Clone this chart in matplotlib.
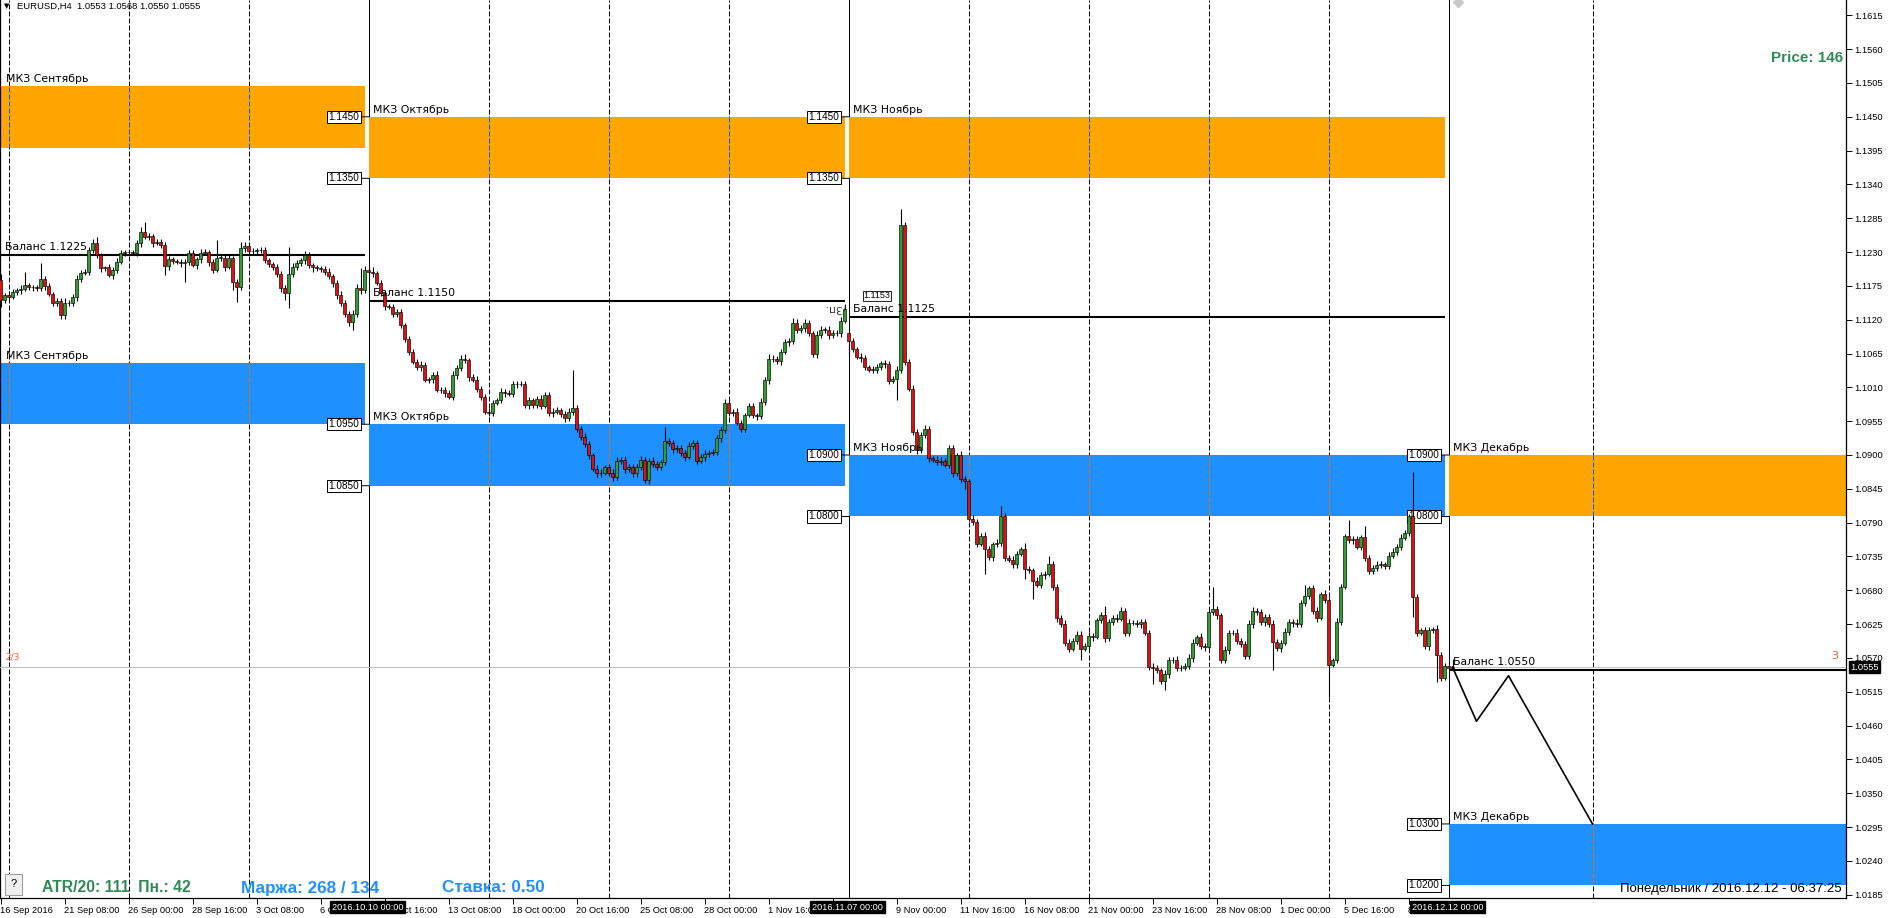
import matplotlib
matplotlib.use('Agg')
import matplotlib.pyplot as plt
import matplotlib.transforms as mtransforms
from matplotlib.patches import Rectangle

# ---------------- data ----------------
header_text = "EURUSD,H4  1.0553 1.0568 1.0550 1.0555"

# H4 closes in pips (price * 10000), bar 0 = 16 Sep 2016 16:00 ... bar 363 = 12 Dec 2016 04:00
closes_pips = [
    11152, 11160, 11157, 11165, 11168, 11170, 11176, 11173, 11173, 11171, 11186, 11175, 11162, 11148, 11150, 11128, 11148, 11147, 11157, 11187,
    11196, 11198, 11233, 11244, 11225, 11204, 11205, 11193, 11201, 11214, 11229, 11230, 11230, 11229, 11244, 11263, 11255, 11256, 11245, 11247,
    11241, 11207, 11218, 11216, 11214, 11212, 11214, 11228, 11209, 11218, 11229, 11230, 11214, 11201, 11221, 11221, 11206, 11220, 11182, 11173,
    11236, 11240, 11232, 11232, 11234, 11233, 11217, 11211, 11205, 11195, 11171, 11164, 11195, 11206, 11212, 11217, 11225, 11209, 11206, 11204,
    11203, 11198, 11191, 11179, 11160, 11147, 11130, 11117, 11130, 11171, 11168, 11201, 11198, 11196, 11180, 11163, 11142, 11141, 11130, 11132,
    11111, 11088, 11068, 11052, 11043, 11047, 11022, 11023, 11030, 11006, 11006, 11001, 10995, 11030, 11041, 11056, 11054, 11027, 11022, 11008,
    10995, 10970, 10969, 10985, 10989, 11003, 11001, 11000, 11015, 11016, 11016, 10981, 10989, 10981, 10991, 10980, 10998, 10968, 10970, 10973,
    10967, 10960, 10970, 10977, 10943, 10929, 10918, 10900, 10878, 10870, 10871, 10880, 10871, 10864, 10891, 10892, 10877, 10881, 10870, 10880,
    10892, 10859, 10891, 10885, 10881, 10888, 10923, 10920, 10909, 10911, 10904, 10897, 10915, 10920, 10891, 10896, 10902, 10904, 10905, 10927,
    10940, 10985, 10969, 10970, 10952, 10943, 10965, 10979, 10965, 10963, 10987, 11022, 11056, 11056, 11053, 11068, 11083, 11086, 11115, 11103,
    11106, 11115, 11098, 11064, 11095, 11104, 11104, 11095, 11099, 11098, 11118, 11138, 11085, 11072, 11060, 11057, 11043, 11039, 11039, 11043,
    11049, 11048, 11021, 11024, 11039, 11274, 11052, 11008, 10938, 10908, 10933, 10942, 10895, 10892, 10889, 10891, 10884, 10911, 10870, 10900,
    10861, 10857, 10796, 10791, 10756, 10769, 10747, 10734, 10755, 10757, 10800, 10733, 10730, 10722, 10739, 10747, 10715, 10713, 10695, 10689,
    10705, 10707, 10722, 10686, 10635, 10625, 10595, 10585, 10598, 10608, 10585, 10590, 10606, 10604, 10631, 10639, 10602, 10628, 10635, 10634,
    10647, 10611, 10627, 10627, 10625, 10628, 10611, 10556, 10554, 10550, 10532, 10544, 10566, 10567, 10554, 10554, 10557, 10570, 10595, 10604,
    10590, 10588, 10644, 10650, 10639, 10566, 10583, 10611, 10611, 10598, 10593, 10573, 10625, 10647, 10644, 10628, 10637, 10625, 10596, 10586,
    10595, 10612, 10629, 10627, 10625, 10660, 10670, 10683, 10647, 10635, 10674, 10664, 10559, 10566, 10629, 10686, 10768, 10762, 10763, 10751,
    10766, 10733, 10711, 10717, 10721, 10722, 10720, 10736, 10743, 10751, 10765, 10773, 10800, 10669, 10611, 10615, 10589, 10615, 10617, 10575,
    10538, 10557, 10553, 10555,
]
upper_wick_pips = [
    10, 4, 6, 5, 4, 6, 22, 4, 3, 4, 26, 5, 4, 3, 5, 6, 8, 4, 5, 6,
    5, 4, 6, 7, 11, 4, 3, 5, 4, 6, 5, 4, 3, 4, 6, 8, 16, 5, 4, 5,
    4, 6, 5, 4, 3, 4, 5, 6, 5, 4, 6, 5, 4, 5, 29, 4, 5, 6, 4, 5,
    11, 6, 4, 5, 3, 4, 5, 4, 3, 5, 4, 5, 44, 6, 5, 4, 6, 5, 4, 3,
    4, 5, 6, 4, 5, 6, 5, 4, 6, 7, 33, 6, 5, 7, 4, 5, 6, 4, 5, 6,
    5, 4, 6, 5, 4, 6, 5, 4, 5, 6, 4, 5, 4, 6, 5, 6, 8, 4, 5, 6,
    5, 4, 6, 5, 4, 6, 5, 4, 6, 5, 4, 5, 6, 4, 5, 6, 5, 4, 6, 5,
    4, 5, 6, 62, 5, 4, 6, 5, 4, 5, 6, 4, 5, 6, 5, 4, 6, 5, 4, 5,
    6, 5, 4, 6, 5, 4, 23, 5, 4, 6, 5, 4, 6, 5, 4, 5, 6, 4, 5, 6,
    5, 6, 5, 4, 6, 5, 4, 6, 5, 4, 6, 5, 8, 6, 5, 4, 6, 5, 8, 6,
    5, 6, 5, 4, 6, 5, 4, 6, 5, 4, 6, 8, 7, 5, 4, 6, 5, 4, 6, 5,
    4, 6, 5, 4, 6, 26, 5, 4, 6, 5, 4, 6, 5, 4, 6, 5, 4, 6, 5, 4,
    6, 5, 4, 6, 5, 4, 6, 5, 4, 6, 17, 5, 4, 6, 5, 4, 10, 5, 4, 6,
    5, 4, 14, 6, 5, 4, 6, 5, 4, 6, 5, 4, 6, 5, 4, 6, 15, 5, 4, 6,
    5, 4, 6, 5, 4, 6, 5, 4, 6, 5, 4, 6, 5, 4, 6, 5, 4, 6, 5, 4,
    6, 5, 4, 35, 5, 4, 6, 5, 4, 6, 5, 4, 6, 5, 4, 6, 5, 4, 6, 5,
    4, 6, 5, 4, 6, 5, 19, 4, 6, 5, 4, 6, 5, 4, 6, 5, 4, 27, 6, 5,
    4, 19, 5, 4, 6, 5, 4, 6, 5, 4, 6, 5, 4, 72, 5, 4, 6, 5, 4, 6,
    5, 4, 6, 13,
]
lower_wick_pips = [
    12, 5, 6, 4, 5, 6, 4, 5, 6, 4, 5, 6, 4, 5, 6, 7, 7, 5, 4, 6,
    5, 4, 6, 5, 4, 6, 5, 4, 6, 5, 4, 6, 5, 4, 5, 6, 4, 5, 6, 4,
    5, 14, 6, 5, 4, 6, 30, 5, 4, 6, 5, 4, 6, 5, 4, 5, 6, 4, 14, 24,
    5, 6, 4, 5, 6, 4, 5, 6, 4, 5, 6, 12, 25, 6, 5, 4, 6, 5, 8, 4,
    5, 6, 4, 5, 6, 4, 6, 7, 14, 5, 6, 4, 5, 6, 4, 5, 6, 4, 5, 6,
    4, 5, 6, 4, 5, 6, 4, 5, 6, 4, 5, 6, 4, 5, 6, 4, 5, 6, 4, 5,
    6, 4, 5, 6, 4, 5, 6, 4, 5, 6, 4, 5, 6, 4, 5, 6, 4, 5, 6, 4,
    5, 6, 4, 5, 6, 4, 5, 6, 4, 5, 6, 4, 5, 6, 4, 5, 6, 4, 5, 6,
    4, 5, 6, 4, 5, 6, 4, 5, 6, 4, 5, 6, 4, 5, 6, 4, 5, 6, 4, 5,
    6, 4, 5, 6, 4, 5, 6, 4, 5, 6, 4, 5, 6, 4, 5, 6, 4, 5, 6, 4,
    5, 6, 4, 5, 6, 4, 5, 6, 4, 5, 6, 4, 25, 5, 4, 6, 5, 4, 6, 5,
    4, 6, 5, 4, 35, 5, 6, 4, 5, 6, 4, 5, 6, 4, 5, 6, 4, 5, 6, 4,
    5, 12, 4, 5, 6, 4, 40, 5, 6, 4, 5, 6, 4, 5, 6, 4, 16, 5, 29, 4,
    5, 6, 4, 5, 6, 4, 5, 6, 4, 5, 18, 4, 5, 6, 4, 5, 6, 4, 5, 6,
    4, 5, 6, 4, 5, 6, 4, 5, 27, 4, 5, 14, 6, 4, 5, 6, 4, 5, 6, 4,
    5, 6, 4, 5, 6, 4, 5, 6, 4, 5, 6, 4, 5, 6, 4, 5, 6, 4, 46, 5,
    6, 4, 5, 6, 4, 5, 6, 4, 5, 6, 4, 5, 53, 4, 5, 6, 4, 5, 6, 4,
    5, 6, 4, 5, 6, 4, 5, 6, 4, 5, 6, 4, 5, 32, 6, 4, 5, 6, 4, 44,
    6, 4, 18, 3,
]
first_open_pips = 11185
gap_open_bars = [212]
gap_open_pips = [11098]

date_tick_bars = [0, 16, 32, 48, 64, 80, 96, 112, 128, 144, 160, 176, 192, 208,
                  224, 240, 256, 272, 288, 304, 320, 336, 352]
date_tick_labels = ["16 Sep 2016", "21 Sep 08:00", "26 Sep 00:00", "28 Sep 16:00", "3 Oct 08:00",
                    "6 Oct 00:00", "10 Oct 16:00", "13 Oct 08:00", "18 Oct 00:00", "20 Oct 16:00",
                    "25 Oct 08:00", "28 Oct 00:00", "1 Nov 16:00", "4 Nov 08:00", "9 Nov 00:00",
                    "11 Nov 16:00", "16 Nov 08:00", "21 Nov 00:00", "23 Nov 16:00", "28 Nov 08:00",
                    "1 Dec 00:00", "5 Dec 16:00", "8 Dec 08:00"]
week_grid_bars = [2, 32, 62, 122, 152, 182, 242, 272, 302, 332, 398]
month_line_bars = [92, 212, 362]
month_line_labels = ["2016.10.10 00:00", "2016.11.07 00:00", "2016.12.12 00:00"]

price_ticks = [1.1615, 1.1560, 1.1505, 1.1450, 1.1395, 1.1340, 1.1285, 1.1230, 1.1175,
               1.1120, 1.1065, 1.1010, 1.0955, 1.0900, 1.0845, 1.0790, 1.0735, 1.0680,
               1.0625, 1.0570, 1.0515, 1.0460, 1.0405, 1.0350, 1.0295, 1.0240, 1.0185]

month_names = ["Сентябрь", "Октябрь", "Ноябрь", "Декабрь"]
period_start_bars = [None, 92, 212, 362]
period_end_bars = [91, 211, 361, None]
upper_zone_lo = [1.1400, 1.1350, 1.1350, 1.0800]
upper_zone_hi = [1.1500, 1.1450, 1.1450, 1.0900]
lower_zone_lo = [1.0950, 1.0850, 1.0800, 1.0200]
lower_zone_hi = [1.1050, 1.0950, 1.0900, 1.0300]
balance_levels = [1.1225, 1.1150, 1.1125, 1.0550]

projection_bars = [363, 369, 377, 398]
projection_prices = [1.0555, 1.0467, 1.0541, 1.0300]
current_price = 1.0555

atr_text = "ATR/20: 111  Пн.: 42"
margin_text = "Маржа: 268 / 134"
rate_text = "Ставка: 0.50"
price_text = "Price: 146"
clock_text = "Понедельник / 2016.12.12 - 06:37:25"

# ---------------- layout helpers ----------------
W, H = 1888, 918
AX_RIGHT_PX, AX_BOTTOM_PX = 1846, 898
def px2bar(px):
    return (px - 0.5) / 4.0
def py2price(py):
    return 1.0900 + (455.0 - py) / 6149.0

X0, X1 = px2bar(0), px2bar(AX_RIGHT_PX)
Y0, Y1 = py2price(AX_BOTTOM_PX), py2price(0)

plt.rcParams['font.family'] = ['DejaVu Sans']
SMALL = ['Liberation Sans', 'DejaVu Sans']

fig = plt.figure(figsize=(W / 100, H / 100), dpi=100)
fig.patch.set_facecolor('white')
ax = fig.add_axes([0, (H - AX_BOTTOM_PX) / H, AX_RIGHT_PX / W, AX_BOTTOM_PX / H])
ax.set_xlim(X0, X1)
ax.set_ylim(Y0, Y1)
ax.set_facecolor('white')

PX = 0.72  # one pixel in points

# grid (weekly dashed) and month separators
for b in week_grid_bars:
    ax.axvline(b, color='black', lw=PX, ls=(0, (5, 2)), zorder=1)
for b in month_line_bars:
    ax.axvline(b, color='black', lw=PX, zorder=1.5)

ORANGE = '#FFA500'
BLUE = '#1E90FF'
INV = {ORANGE: '#005AFF', BLUE: '#E16F00'}

for i, name in enumerate(month_names):
    s = X0 if period_start_bars[i] is None else period_start_bars[i] + 0.2
    e = X1 if period_end_bars[i] is None else period_end_bars[i] + 0.1
    for lo, hi, col in ((upper_zone_lo[i], upper_zone_hi[i], ORANGE),
                        (lower_zone_lo[i], lower_zone_hi[i], BLUE)):
        ax.add_patch(Rectangle((s, lo), e - s, hi - lo, facecolor=col, edgecolor='none', zorder=2))
        for g in week_grid_bars:
            if s < g < e:
                ax.vlines(g, lo, hi, color=INV[col], lw=PX, ls=(0, (5, 2)), zorder=2.2)
        off = 6 if period_start_bars[i] is None else 4
        ax.annotate("МКЗ " + name, xy=(s, hi), xytext=(off, 2), textcoords='offset pixels',
                    ha='left', va='bottom', fontsize=7.8, color='black', zorder=6)
        if period_start_bars[i] is not None:
            for p in (hi, lo):
                ax.annotate(f"{p:.4f}", xy=(s, p), xytext=(-10, 0), textcoords='offset pixels',
                            ha='right', va='center', fontsize=7.2, family=SMALL, color='black',
                            bbox=dict(boxstyle='square,pad=0.12', fc='white', ec='black', lw=0.7),
                            arrowprops=dict(arrowstyle='-', lw=PX, color='black', shrinkA=0, shrinkB=0),
                            zorder=3.5)
    # balance line
    ax.plot([s, e], [balance_levels[i]] * 2, color='black', lw=1.5, zorder=3, solid_capstyle='butt')
    off = 5 if period_start_bars[i] is None else 4
    ax.annotate(f"Баланс {balance_levels[i]:.4f}", xy=(s, balance_levels[i]), xytext=(off, 3),
                textcoords='offset pixels', ha='left', va='bottom', fontsize=7.8, color='black', zorder=6)

# bid line
ax.axhline(current_price, color='#c0c0c0', lw=PX, zorder=2.6)

# candles
n = len(closes_pips)
opens_pips = [first_open_pips] + closes_pips[:-1]
for b, o in zip(gap_open_bars, gap_open_pips):
    opens_pips[b] = o
xs = list(range(n))
o_ = [v / 10000 for v in opens_pips]
c_ = [v / 10000 for v in closes_pips]
hi_ = [(max(a, b) + u) / 10000 for a, b, u in zip(opens_pips, closes_pips, upper_wick_pips)]
lo_ = [(min(a, b) - d) / 10000 for a, b, d in zip(opens_pips, closes_pips, lower_wick_pips)]
ax.vlines(xs, lo_, hi_, color='black', lw=0.8, zorder=4)
bot = [min(a, b) for a, b in zip(o_, c_)]
hgt = [max(abs(b - a), 0.00002) for a, b in zip(o_, c_)]
cols = ['#2fa02f' if b >= a else '#e01010' for a, b in zip(o_, c_)]
ax.bar(xs, hgt, bottom=bot, width=0.78, color=cols, edgecolor='black', linewidth=0.45, zorder=4.5)

# projection zigzag
ax.plot(projection_bars, projection_prices, color='black', lw=1.2, zorder=5)

# overlapped objects near November balance
ax.text(px2bar(877), py2price(296), "1.1153", ha='center', va='center', fontsize=6.5, family=SMALL,
        bbox=dict(boxstyle='square,pad=0.1', fc='white', ec='black', lw=0.6), zorder=3.2)
ax.text(px2bar(836), py2price(308), "/3п.", rotation=180, ha='center', va='center', fontsize=7.5,
        color='#303030', zorder=6)

# small grey marker at top edge
ax.plot([px2bar(1458)], [py2price(2)], marker='D', ms=5, color='#c8c8c8', zorder=6, clip_on=True)

# axes styling
ax.spines['top'].set_visible(False)
for sp in ('left', 'right', 'bottom'):
    ax.spines[sp].set_linewidth(0.9)
    ax.spines[sp].set_color('black')
ax.yaxis.tick_right()
ax.set_yticks(price_ticks)
ax.set_yticklabels([f"{p:.4f}" for p in price_ticks], family=SMALL)
ax.tick_params(axis='y', direction='out', length=4, width=0.7, labelsize=6.7, pad=2)
ax.set_xticks(date_tick_bars)
ax.set_xticklabels(date_tick_labels, family=SMALL)
ax.tick_params(axis='x', direction='out', length=4, width=0.7, labelsize=6.7, pad=1.5)
for t in ax.get_xticklabels():
    t.set_ha('left')

# month boxes on time axis
for b, lab in zip(month_line_bars, month_line_labels):
    ax.annotate(lab, xy=(b, 0), xycoords=('data', 'axes fraction'), xytext=(-1, -9),
                textcoords='offset pixels', ha='center', va='center', fontsize=6.6, family=SMALL,
                color='white', bbox=dict(boxstyle='square,pad=0.2', fc='black', ec='black'),
                zorder=20, annotation_clip=False)

# current price box on price axis
trans_r = mtransforms.blended_transform_factory(ax.transAxes, ax.transData)
ax.annotate(f"{current_price:.4f}", xy=(1, current_price), xycoords=trans_r, xytext=(4, 0),
            textcoords='offset pixels', ha='left', va='center', fontsize=6.7, family=SMALL,
            color='white', bbox=dict(boxstyle='square,pad=0.15', fc='black', ec='black'),
            zorder=20, annotation_clip=False)
ax.annotate("3", xy=(1, current_price), xycoords=trans_r, xytext=(-8, 11), textcoords='offset pixels',
            ha='right', va='center', fontsize=8, color='#ff5533', zorder=20)
ax.annotate("2/3", xy=(0, current_price), xycoords=trans_r, xytext=(5, 10), textcoords='offset pixels',
            ha='left', va='center', fontsize=6.5, color='#ff5533', zorder=20)

# figure-level texts
def fx(px):
    return px / W
def fy(py):
    return 1 - py / H
fig.text(fx(4), fy(6), "▼", fontsize=5, va='center', ha='left')
fig.text(fx(17), fy(6), header_text, fontsize=6.8, family=SMALL, va='center', ha='left')
fig.text(fx(1843), fy(58), price_text, fontsize=11, fontweight='bold', family=SMALL,
         color='#2e8b57', ha='right', va='center')
fig.text(fx(42), fy(888), atr_text, fontsize=11.3, fontweight='bold', family=SMALL,
         color='#2e8b57', ha='left', va='center')
fig.text(fx(241), fy(888), margin_text, fontsize=12.3, fontweight='bold', family=SMALL,
         color='#1e90ff', ha='left', va='center')
fig.text(fx(442), fy(888), rate_text, fontsize=12.3, fontweight='bold', family=SMALL,
         color='#1e90ff', ha='left', va='center')
fig.text(fx(1842), fy(889), clock_text, fontsize=9.5, family=SMALL, color='black',
         ha='right', va='center')
fig.patches.append(Rectangle((fx(5), fy(895)), fx(17), 21 / H, transform=fig.transFigure,
                             facecolor='#f0f0f0', edgecolor='#a0a0a0', lw=0.8, zorder=5))
fig.text(fx(13.5), fy(884), "?", fontsize=8, family=SMALL, ha='center', va='center', zorder=6)

fig.savefig('out.png', dpi=100)
